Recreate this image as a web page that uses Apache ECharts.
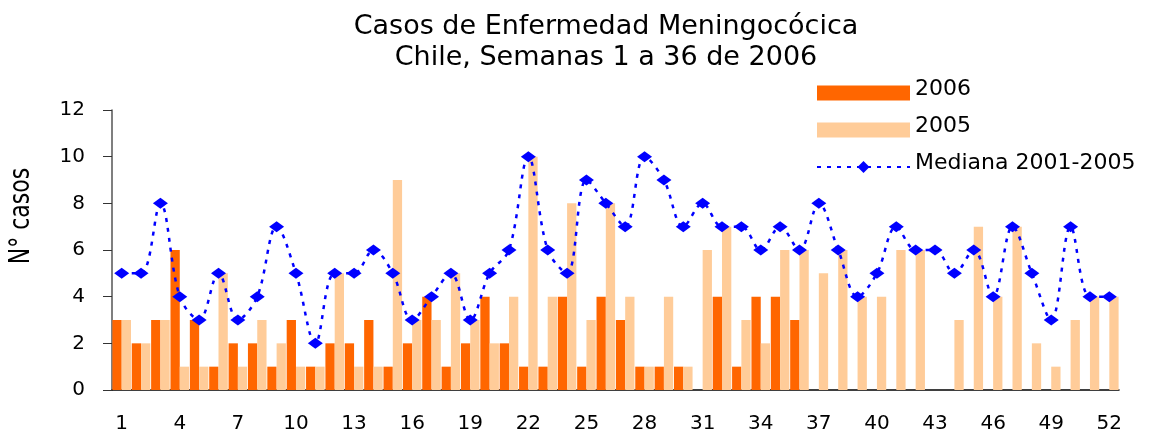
<!DOCTYPE html>
<html>
<head>
<meta charset="utf-8">
<script src="https://cdn.jsdelivr.net/npm/echarts@6/dist/echarts.min.js"></script>
<style>html,body{margin:0;padding:0;background:#fff;}#c{width:1149px;height:436px;}</style>
</head>
<body>
<div id="c"></div>
<script>
const weeks = Array.from({length: 52}, (_, i) => String(i + 1));
const cases2006 = [3,2,3,6,3,1,2,2,1,3,1,2,2,3,1,2,4,1,2,4,2,1,1,4,1,4,3,1,1,1,0,4,1,4,4,3,
  null,null,null,null,null,null,null,null,null,null,null,null,null,null,null,null];
const cases2005 = [3,2,3,1,1,5,1,3,2,1, 1,5,1,1,9,3,3,5,3,2, 4,10,4,8,3,8,4,1,4,1,
  6,7,3,2,6,6,5,6,4,4, 6,6,0,3,7,4,7,2,1,3, 4,4];
const median0105 = [5,5,8,4,3,5,3,4,7,5, 2,5,5,6,5,3,4,5,3,5, 6,10,6,5,9,8,7,10,9,7,
  8,7,7,6,7,6,8,6,4,5, 7,6,6,5,6,4,7,5,3,7, 4,4];
const yTicks = [0, 12, 2];

const font = '"DejaVu Sans", Verdana, sans-serif';
const chart = echarts.init(document.getElementById('c'));
chart.setOption({
  animation: false,
  backgroundColor: '#ffffff',
  title: {
    text: 'Casos de Enfermedad Meningocócica\nChile, Semanas 1 a 36 de 2006',
    left: 601, textAlign: 'center', top: 6,
    textStyle: {fontFamily: font, fontSize: 27, fontWeight: 'normal', color: '#000', lineHeight: 31}
  },
  graphic: [{
    type: 'text', x: 22, y: 216, rotation: Math.PI / 2, scaleY: 1.3,
    style: {text: 'N° casos', fontFamily: font, fontSize: 22, fill: '#000',
            align: 'center', verticalAlign: 'middle'}
  }],
  legend: {
    orient: 'vertical', left: 811, top: 73, itemWidth: 93, itemHeight: 15, itemGap: 7,
    formatter: '{t|{name}}',
    textStyle: {
      fontFamily: font, fontSize: 22, color: '#000',
      rich: {t: {fontFamily: font, fontSize: 22, lineHeight: 22, color: '#000', padding: [0, 0, 8, 0]}}
    },
    data: [{name: '2006', icon: 'rect'}, {name: '2005', icon: 'rect'}, {name: 'Mediana 2001-2005'}]
  },
  grid: {left: 112, right: 30, top: 110, bottom: 46},
  xAxis: {
    type: 'category', data: weeks, boundaryGap: true,
    axisLine: {lineStyle: {color: '#000', width: 1.5}},
    axisTick: {interval: 0, length: 8, lineStyle: {color: '#555', width: 1.5}},
    axisLabel: {interval: 2, fontFamily: font, fontSize: 20, color: '#000', margin: 24}
  },
  yAxis: {
    type: 'value', min: yTicks[0], max: yTicks[1], interval: yTicks[2],
    axisLine: {show: true, lineStyle: {color: '#555', width: 1.5}},
    axisTick: {show: true, length: 9, lineStyle: {color: '#333'}},
    splitLine: {show: false},
    axisLabel: {fontFamily: font, fontSize: 20, color: '#000', margin: 27}
  },
  series: [
    {name: '2006', type: 'bar', data: cases2006, barGap: '0%', barCategoryGap: '4%',
     itemStyle: {color: '#FF6600'}},
    {name: '2005', type: 'bar', data: cases2005,
     itemStyle: {color: '#FFCC99'}},
    {name: 'Mediana 2001-2005', type: 'line', data: median0105, smooth: 0.35,
     symbol: 'diamond', symbolSize: [15, 11],
     lineStyle: {color: '#0000FF', width: 2.5, type: [4, 6]},
     itemStyle: {color: '#0000FF'}}
  ]
});
</script>
</body>
</html>
